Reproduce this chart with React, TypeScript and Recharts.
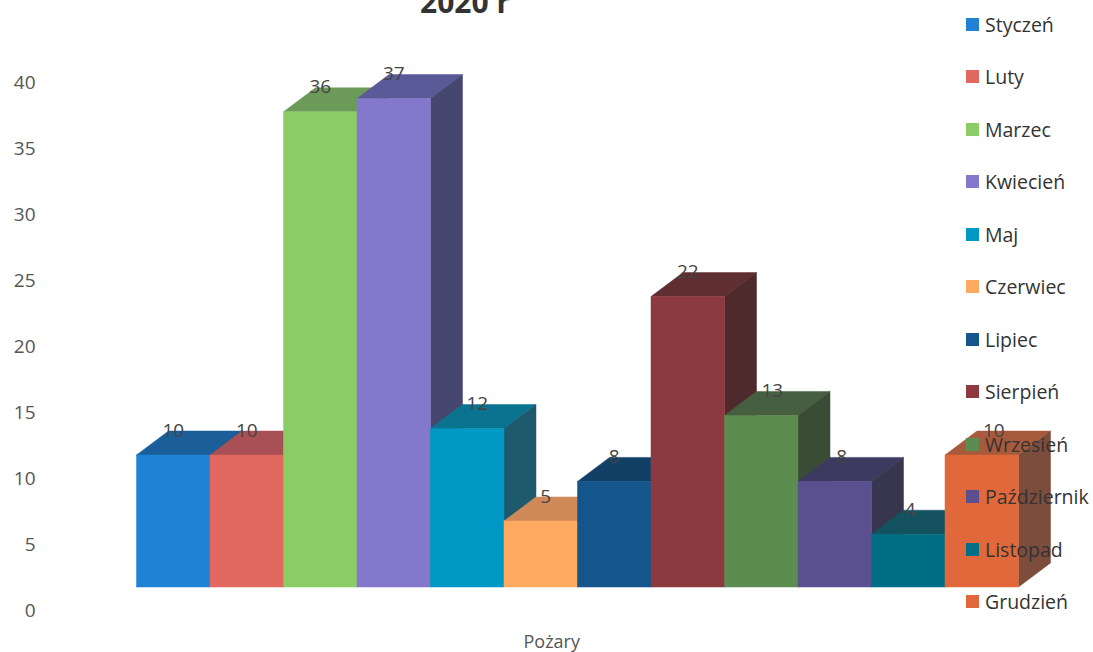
import { BarChart, Bar, XAxis, YAxis, Legend, LabelList } from 'recharts';

const MONTHS = ['Styczeń', 'Luty', 'Marzec', 'Kwiecień', 'Maj', 'Czerwiec', 'Lipiec', 'Sierpień', 'Wrzesień', 'Październik', 'Listopad', 'Grudzień'];
const FIRES = [10, 10, 36, 37, 12, 5, 8, 22, 13, 8, 4, 10];
const Y_TICKS = [0, 5, 10, 15, 20, 25, 30, 35, 40];
const FRONT = ['#1f82d4', '#e0685f', '#8ccc66', '#8478cc', '#0098c4', '#ffa860', '#14568c', '#8c3a40', '#5c8c50', '#5a5090', '#006f86', '#e0683a'];
const TOP = ['#1a5f99', '#a85055', '#6c9a58', '#5a5a98', '#0a7490', '#d08a5a', '#123f66', '#5e2e30', '#465f40', '#3c3a60', '#145260', '#a85a3c'];
const SIDE = ['#17466f', '#7c3f42', '#557a48', '#46476f', '#1e5a6c', '#a8734e', '#10324f', '#4e2a2c', '#3a4c36', '#38364e', '#17444f', '#7c4c3c'];
// the data labels are not all centred over their bars in the original
const LABEL_NUDGE = [0, 0, 0, 0, 10, 5, 0, 0, 11, 7, 2, 12];

const FONT = '"Open Sans", sans-serif';
const DEPTH_X = 32;
const DEPTH_Y = 24;

const row: Record<string, string | number> = { name: 'Pożary' };
MONTHS.forEach((m, i) => {
  row[m] = FIRES[i];
});

function Box3D({ x, y, width, height, fill, top, side }: any) {
  const r = x + width;
  const b = y + height;
  return (
    <g>
      <polygon points={`${x},${y} ${x + DEPTH_X},${y - DEPTH_Y} ${r + DEPTH_X},${y - DEPTH_Y} ${r},${y}`} fill={top} stroke={top} strokeWidth={0.5} />
      <polygon points={`${r},${y} ${r + DEPTH_X},${y - DEPTH_Y} ${r + DEPTH_X},${b - DEPTH_Y} ${r},${b}`} fill={side} stroke={side} strokeWidth={0.5} />
      <rect x={x} y={y} width={width} height={height} fill={fill} stroke={fill} strokeWidth={0.5} />
    </g>
  );
}

function YTick({ x, y, payload }: any) {
  return (
    <text x={x} y={y + 23} dy="0.35em" textAnchor="end" fontSize={19} fontFamily={FONT} fill="#555">
      {payload.value}
    </text>
  );
}

function XTick({ x, y, payload }: any) {
  return (
    <text x={x - 26} y={y + 7} textAnchor="middle" fontSize={18} fontFamily={FONT} fill="#555">
      {payload.value}
    </text>
  );
}

function LegendList({ payload }: any) {
  return (
    <div style={{ fontFamily: FONT, fontSize: 19.5, color: '#333' }}>
      {payload.map((item: any) => (
        <div key={item.value} style={{ height: 52.5, display: 'flex', alignItems: 'center', whiteSpace: 'nowrap' }}>
          <span style={{ width: 13, height: 13, background: item.color, marginRight: 6 }} />
          {item.value}
        </div>
      ))}
    </div>
  );
}

export default function App() {
  return (
    <div style={{ position: 'absolute', left: 0, top: 0, width: 1093, height: 652, background: '#fff', overflow: 'hidden' }}>
      <BarChart
        width={1093}
        height={652}
        data={[row]}
        margin={{ top: 59, right: 74, bottom: 0, left: 0 }}
        barCategoryGap={0}
        barGap={0}
        barSize={73.5}
      >
        <text x={465} y={13} textAnchor="middle" fontSize={30} fontWeight={700} fontFamily={FONT} fill="#333">
          2020 r
        </text>
        <XAxis dataKey="name" height={65} axisLine={false} tickLine={false} tickSize={0} tickMargin={54} tick={<XTick />} />
        <YAxis
          width={136.5}
          domain={[0, 40]}
          ticks={Y_TICKS}
          axisLine={false}
          tickLine={false}
          tickSize={0}
          tickMargin={101}
          tick={<YTick />}
        />
        <Legend
          layout="horizontal"
          verticalAlign="middle"
          itemSorter={null}
          content={<LegendList />}
          wrapperStyle={{ position: 'absolute', left: 966, top: -2, width: 127 }}
        />
        {MONTHS.map((m, i) => (
          <Bar
            key={m}
            dataKey={m}
            name={m}
            fill={FRONT[i]}
            isAnimationActive={false}
            shape={(p: any) => <Box3D {...p} fill={FRONT[i]} top={TOP[i]} side={SIDE[i]} />}
          >
            <LabelList
              dataKey={m}
              content={(p: any) => (
                <text
                  x={p.x + p.width / 2 + LABEL_NUDGE[i]}
                  y={p.y - 25}
                  dy="0.35em"
                  textAnchor="middle"
                  fontSize={19}
                  fontFamily={FONT}
                  fill="#444"
                >
                  {p.value}
                </text>
              )}
            />
          </Bar>
        ))}
      </BarChart>
    </div>
  );
}
